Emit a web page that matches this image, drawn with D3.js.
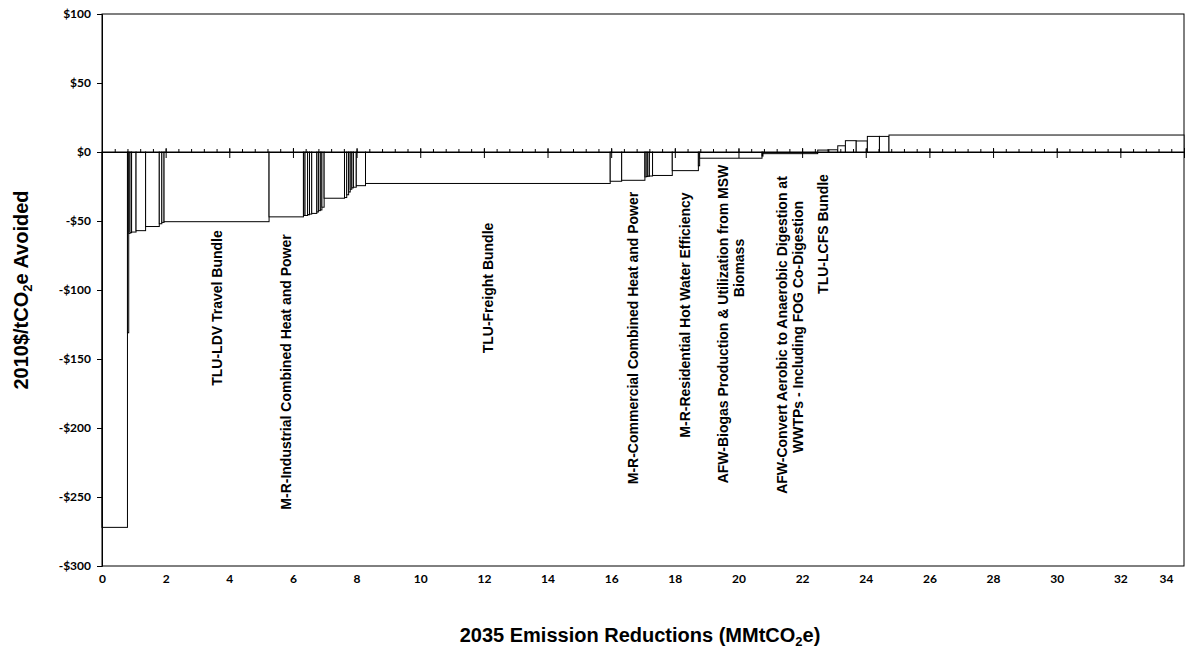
<!DOCTYPE html>
<html>
<head>
<meta charset="utf-8">
<script src="https://cdn.jsdelivr.net/npm/d3@7"></script>
<style>
  html, body { margin: 0; padding: 0; background: #fff; }
  svg { display: block; }
  .tick text { font-family: Lato, "Open Sans", sans-serif; font-weight: 700; font-size: 12px; fill: #000; }
  .lbl { font-family: "Liberation Sans", Arial, sans-serif; font-weight: 700; font-size: 14px; fill: #000; }
  .title { font-family: "Liberation Sans", Arial, sans-serif; font-weight: 700; font-size: 20px; fill: #000; }
</style>
</head>
<body>
<svg id="chart" width="1199" height="650"></svg>
<script>
// Emission reductions per measure (MMtCO2e), in order of increasing cost
const reductions = [
  0.80, 0.04, 0.04, 0.05, 0.14, 0.30, 0.43, 0.08, 0.07, 3.30,
  1.08, 0.05, 0.08, 0.06, 0.07, 0.16, 0.05, 0.06, 0.05, 0.07,
  0.64, 0.07, 0.06, 0.05, 0.05, 0.05, 0.09, 0.29, 7.69, 0.36,
  0.73, 0.04, 0.05, 0.05, 0.10, 0.62, 0.82, 0.04, 1.96, 0.03,
  1.72, 0.35, 0.28, 0.24, 0.34, 0.35, 0.38, 0.30, 9.27
];
// Cost of each measure (2010$ per tCO2e avoided)
const costs = [
  -272, -131, -59, -58.5, -58, -57, -54, -52, -51, -50.5,
  -47, -46, -46, -45.5, -45, -44.5, -43.5, -42.5, -42, -40,
  -33.5, -33, -31, -29, -27, -26, -25.5, -24.4, -22.8, -21.2,
  -20.5, -18, -17.8, -17.6, -17.4, -17, -13.5, -10, -4.5, -3,
  -1.2, 1.4, 1.6, 4.5, 8.2, 8, 11.3, 11.3, 12.3
];
// Named measures: index into the arrays above and the label lines
const labelIndex = [9, 10, 28, 30, 36, 38, 40, 41];
const labelText = [
  ["TLU-LDV Travel Bundle"],
  ["M-R-Industrial Combined Heat and Power"],
  ["TLU-Freight Bundle"],
  ["M-R-Commercial Combined Heat and Power"],
  ["M-R-Residential Hot Water Efficiency"],
  ["AFW-Biogas Production & Utilization from MSW", "Biomass"],
  ["AFW-Convert Aerobic to Anaerobic Digestion at", "WWTPs - Including FOG Co-Digestion"],
  ["TLU-LCFS Bundle"]
];
const xTicks = d3.range(0, 35, 2);
const xMinorTicks = d3.range(0, 34.01, 0.4);
const yTicks = [100, 50, 0, -50, -100, -150, -200, -250, -300];

// Layout
const plot = { left: 102, right: 1184, top: 14, bottom: 566 };
// vertical centre (px) of each rotated label line
const labelCenters = [[308], [372], [288], [338], [315], [324, 268], [335, 327], [234]];
const lineGap = 16;

const svg = d3.select("#chart");
const x = d3.scaleLinear().domain([0, 34]).range([plot.left, plot.right]);
const y = d3.scaleLinear().domain([-300, 100]).range([plot.bottom, plot.top]);

// cumulative start/end of each measure along the reduction axis
const starts = [];
let acc = 0;
reductions.forEach(r => { starts.push(acc); acc += r; });
const bars = reductions.map((r, i) => ({ x0: starts[i], x1: starts[i] + r, c: costs[i] }));

// plot frame
svg.append("rect")
  .attr("x", plot.left).attr("y", plot.top)
  .attr("width", plot.right - plot.left).attr("height", plot.bottom - plot.top)
  .attr("fill", "#fff").attr("stroke", "#000").attr("stroke-width", 1);

// cost curve blocks
svg.append("g").selectAll("rect").data(bars).join("rect")
  .attr("x", d => x(d.x0))
  .attr("width", d => Math.max(0, x(d.x1) - x(d.x0)))
  .attr("y", d => y(Math.max(0, d.c)))
  .attr("height", d => Math.abs(y(d.c) - y(0)))
  .attr("fill", "#fff")
  .attr("stroke", "#000")
  .attr("stroke-width", 1);

// y axis
const yAxis = svg.append("g")
  .attr("transform", `translate(${plot.left},0)`)
  .call(d3.axisLeft(y).tickValues(yTicks).tickSize(5).tickPadding(6)
    .tickFormat(d => (d < 0 ? "-" : "") + "$" + Math.abs(d)));
yAxis.select(".domain").attr("stroke", "#000");

// x axis along zero: minor ticks above, major ticks crossing
const xMinor = svg.append("g")
  .attr("transform", `translate(0,${y(0)})`)
  .call(d3.axisTop(x).tickValues(xMinorTicks).tickSize(3).tickFormat(""));
xMinor.select(".domain").remove();

const xMajor = svg.append("g")
  .attr("transform", `translate(0,${y(0)})`)
  .call(d3.axisBottom(x).tickValues(xTicks).tickFormat("").tickSizeOuter(0));
xMajor.selectAll(".tick line").attr("y1", -4).attr("y2", 6);
xMajor.select(".domain").attr("stroke", "#000");

// x tick labels below the plot; the last one is pulled inside the frame
const xLabels = svg.append("g")
  .attr("transform", `translate(0,${plot.bottom})`)
  .call(d3.axisBottom(x).tickValues(xTicks).tickSize(0).tickPadding(8));
xLabels.select(".domain").remove();
xLabels.selectAll(".tick text").filter(d => d === 34).attr("dx", -18);

// measure labels, rotated
labelIndex.forEach((bi, k) => {
  const b = bars[bi];
  const cx = x((b.x0 + b.x1) / 2);
  const lines = labelText[k];
  lines.forEach((t, j) => {
    const lx = cx + (j - (lines.length - 1) / 2) * lineGap + 5;
    const ly = labelCenters[k][j];
    svg.append("text")
      .attr("class", "lbl")
      .attr("text-anchor", "middle")
      .attr("transform", `translate(${lx},${ly}) rotate(-90)`)
      .text(t);
  });
});

// axis titles
const xt = svg.append("text").attr("class", "title")
  .attr("x", 640).attr("y", 642)
  .attr("text-anchor", "middle");
xt.append("tspan").text("2035 Emission Reductions (MMtCO");
xt.append("tspan").attr("font-size", 13).attr("dy", 4).text("2");
xt.append("tspan").attr("dy", -4).text("e)");

const yt = svg.append("text").attr("class", "title")
  .attr("transform", `translate(28,${(plot.top + plot.bottom) / 2}) rotate(-90)`)
  .attr("text-anchor", "middle");
yt.append("tspan").text("2010$/tCO");
yt.append("tspan").attr("font-size", 13).attr("dy", 4).text("2");
yt.append("tspan").attr("dy", -4).text("e Avoided");
</script>
</body>
</html>
